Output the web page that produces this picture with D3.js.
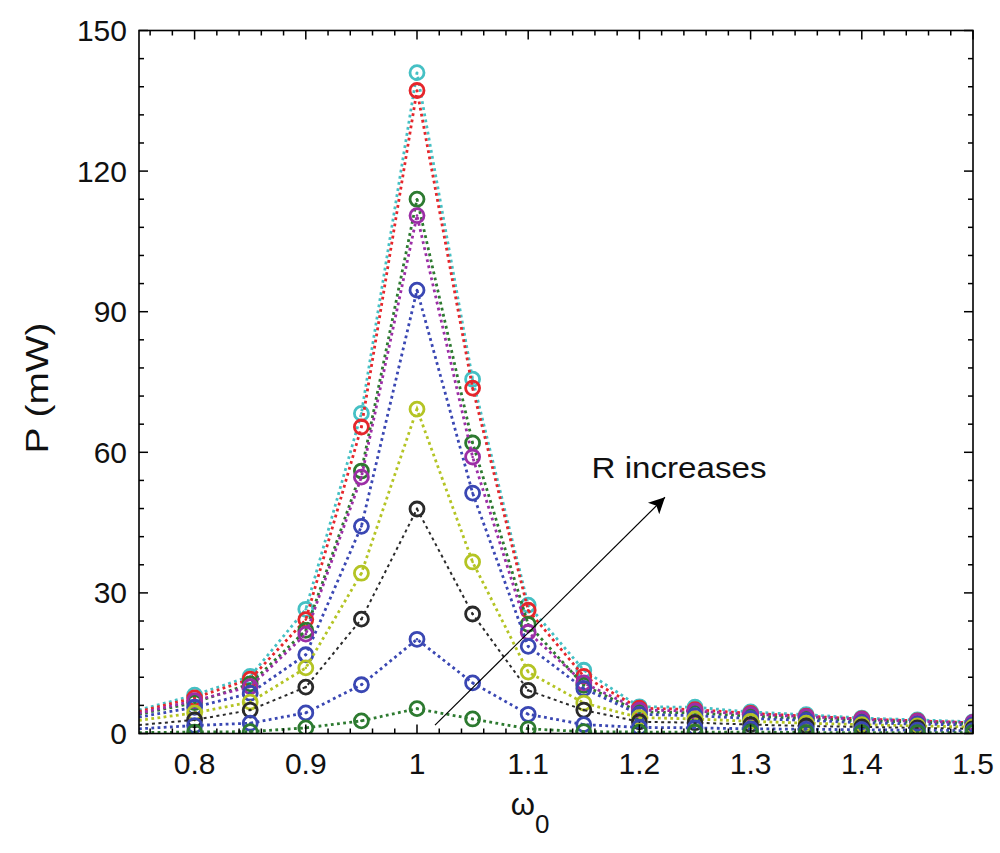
<!DOCTYPE html>
<html><head><meta charset="utf-8">
<script src="https://cdn.jsdelivr.net/npm/d3@7"></script>
<style>html,body{margin:0;padding:0;background:#fff;}svg{display:block;}</style>
</head><body>
<script>
const omega = [0.75,0.8,0.85,0.9,0.95,1,1.05,1.1,1.15,1.2,1.25,1.3,1.35,1.4,1.45,1.5];
const sCyan    = [5.0, 8.2, 12.2, 26.5, 68.3, 141.0, 75.6, 27.4, 13.5, 5.7, 5.6, 4.6, 4.0, 3.3, 2.9, 2.5];
const sRed     = [4.7, 7.6, 11.6, 24.3, 65.4, 137.2, 73.7, 26.3, 12.2, 5.4, 5.1, 4.3, 3.7, 3.1, 2.7, 2.3];
const sGreen   = [4.1, 6.6, 10.6, 22.0, 56.0, 114.0, 62.0, 23.3, 10.3, 4.6, 4.4, 3.7, 3.2, 2.7, 2.4, 2.1];
const sMagenta = [4.3, 7.0, 10.0, 21.2, 54.7, 110.5, 59.0, 21.6, 10.8, 5.0, 4.8, 4.1, 3.6, 3.0, 2.6, 2.3];
const sBlue    = [3.5, 5.6, 8.6, 16.8, 44.2, 94.6, 51.3, 18.6, 9.6, 4.1, 3.8, 3.2, 2.8, 2.3, 2.0, 1.8];
const sYellow  = [2.8, 4.4, 6.7, 14.0, 34.2, 69.2, 36.6, 13.1, 6.5, 3.4, 3.1, 2.6, 2.2, 1.9, 1.6, 1.4];
const sBlack   = [1.8, 2.9, 5.0, 9.9, 24.4, 47.9, 25.5, 9.2, 5.0, 2.5, 2.3, 1.9, 1.6, 1.4, 1.2, 1.0];
const sBlue2   = [1.0, 1.7, 2.2, 4.4, 10.4, 20.1, 10.8, 4.1, 1.9, 1.3, 1.2, 1.0, 0.9, 0.8, 0.7, 0.6];
const sGreen2  = [0.2, 0.3, 0.4, 1.2, 2.7, 5.3, 3.1, 1.0, 0.4, 0.3, 0.3, 0.3, 0.2, 0.2, 0.2, 0.2];

const xTicks = [0.8,0.9,1,1.1,1.2,1.3,1.4,1.5];
const xTickLabels = ["0.8","0.9","1","1.1","1.2","1.3","1.4","1.5"];
const yTicks = [0,30,60,90,120,150];
const yTickLabels = ["0","30","60","90","120","150"];
const annotation = "R increases";
const arrowFrom = [1.0162, 1.8];
const arrowTo = [1.223, 50.4];
const annotationPos = [1.157, 54.6];

// drawing order: first drawn at bottom
const series = [
  {name:"cyan", values:sCyan, color:"#45c0c4", dash:"2.8,3.4", w:2.8},
  {name:"red", values:sRed, color:"#e5262b", dash:"2.8,3.4", w:2.8},
  {name:"green", values:sGreen, color:"#2d7a30", dash:"2.8,3.4", w:2.8},
  {name:"magenta", values:sMagenta, color:"#9c2ea6", dash:"2.8,3.4", w:2.8},
  {name:"blue", values:sBlue, color:"#3a47b3", dash:"2.8,3.4", w:2.8},
  {name:"yellow", values:sYellow, color:"#b4c424", dash:"2.8,3.4", w:2.8},
  {name:"black", values:sBlack, color:"#2a2a2a", dash:"3,3.5", w:2.0},
  {name:"blue2", values:sBlue2, color:"#3a47b3", dash:"2.8,3.4", w:2.8},
  {name:"green2", values:sGreen2, color:"#2d7a30", dash:"2.8,3.4", w:2.8}
];

const W = 1000, H = 853;
const L = 139, R = 973, T = 30.5, B = 733.5;
const x = d3.scaleLinear().domain([0.75,1.5]).range([L,R]);
const y = d3.scaleLinear().domain([0,150]).range([B,T]);

const svg = d3.select("body").append("svg").attr("width",W).attr("height",H)
  .style("font-family","'Liberation Sans', Arial, Helvetica, sans-serif");

svg.append("defs").append("clipPath").attr("id","clip")
  .append("rect").attr("x",L).attr("y",T).attr("width",R-L).attr("height",B-T);
const arrowDef = svg.select("defs").append("marker").attr("id","ah")
  .attr("viewBox","0 0 10 10").attr("refX",10).attr("refY",5)
  .attr("markerWidth",24).attr("markerHeight",16).attr("markerUnits","userSpaceOnUse").attr("orient","auto");
arrowDef.append("path").attr("d","M0,0 L10,5 L0,10 L2.5,5 Z").attr("fill","#000");

const plot = svg.append("g").attr("clip-path","url(#clip)");
const line = d3.line().x(d=>x(d[0])).y(d=>y(d[1]));

series.forEach(s=>{
  const pts = omega.map((o,i)=>[o,s.values[i]]);
  const g = plot.append("g");
  g.append("path").attr("d",line(pts)).attr("fill","none")
    .attr("stroke",s.color).attr("stroke-width",s.w).attr("stroke-dasharray",s.dash);
  const mp = pts.filter(p=>p[0]>x.domain()[0]+1e-9);
  g.selectAll("circle.m").data(mp).enter().append("circle").attr("class","m")
    .attr("cx",d=>x(d[0])).attr("cy",d=>y(d[1])).attr("r",7)
    .attr("fill","none").attr("stroke",s.color).attr("stroke-width",2.8);
  g.selectAll("circle.c").data(mp).enter().append("circle").attr("class","c")
    .attr("cx",d=>x(d[0])).attr("cy",d=>y(d[1])).attr("r",1.3)
    .attr("fill",s.color);
});

// frame
svg.append("rect").attr("x",L).attr("y",T).attr("width",R-L).attr("height",B-T)
  .attr("fill","none").attr("stroke","#000").attr("stroke-width",1.6);

// ticks (inward, all four sides)
const xMinor = d3.range(76,151,2).map(v=>v/100);
const yMinor = d3.range(0,151,6);
const tg = svg.append("g").attr("stroke","#000").attr("stroke-width",1.5);
xMinor.forEach(v=>{
  const isMaj = xTicks.some(t=>Math.abs(t-v)<1e-9);
  const len = isMaj?9:5;
  tg.append("line").attr("x1",x(v)).attr("x2",x(v)).attr("y1",B).attr("y2",B-len);
  tg.append("line").attr("x1",x(v)).attr("x2",x(v)).attr("y1",T).attr("y2",T+len);
});
yMinor.forEach(v=>{
  const isMaj = yTicks.includes(v);
  const len = isMaj?9:5;
  tg.append("line").attr("x1",L).attr("x2",L+len).attr("y1",y(v)).attr("y2",y(v));
  tg.append("line").attr("x1",R).attr("x2",R-len).attr("y1",y(v)).attr("y2",y(v));
});

// tick labels
xTicks.forEach((v,i)=>{
  svg.append("text").attr("x",x(v)).attr("y",774).attr("text-anchor","middle")
    .attr("font-size",30).attr("fill","#111").text(xTickLabels[i]);
});
yTicks.forEach((v,i)=>{
  svg.append("text").attr("x",127).attr("y",y(v)+10.5).attr("text-anchor","end")
    .attr("font-size",30).attr("fill","#111").text(yTickLabels[i]);
});

// axis titles
svg.append("text").attr("transform","translate(48,388) rotate(-90)").attr("text-anchor","middle")
  .attr("font-size",32).attr("fill","#111")
  .attr("textLength",131).attr("lengthAdjust","spacingAndGlyphs").text("P (mW)");
const xt = svg.append("text").attr("x",530).attr("y",815).attr("text-anchor","middle")
  .attr("font-size",31).attr("fill","#111");
xt.append("tspan").text("ω");
xt.append("tspan").attr("font-size",26).attr("dy",18).text("0");

// annotation
svg.append("line").attr("x1",x(arrowFrom[0])).attr("y1",y(arrowFrom[1]))
  .attr("x2",x(arrowTo[0])).attr("y2",y(arrowTo[1]))
  .attr("stroke","#000").attr("stroke-width",1.2).attr("marker-end","url(#ah)");
svg.append("text").attr("x",x(annotationPos[0])).attr("y",y(annotationPos[1]))
  .attr("font-size",30).attr("fill","#111")
  .attr("textLength",175).attr("lengthAdjust","spacingAndGlyphs").text(annotation);
</script>
</body></html>
